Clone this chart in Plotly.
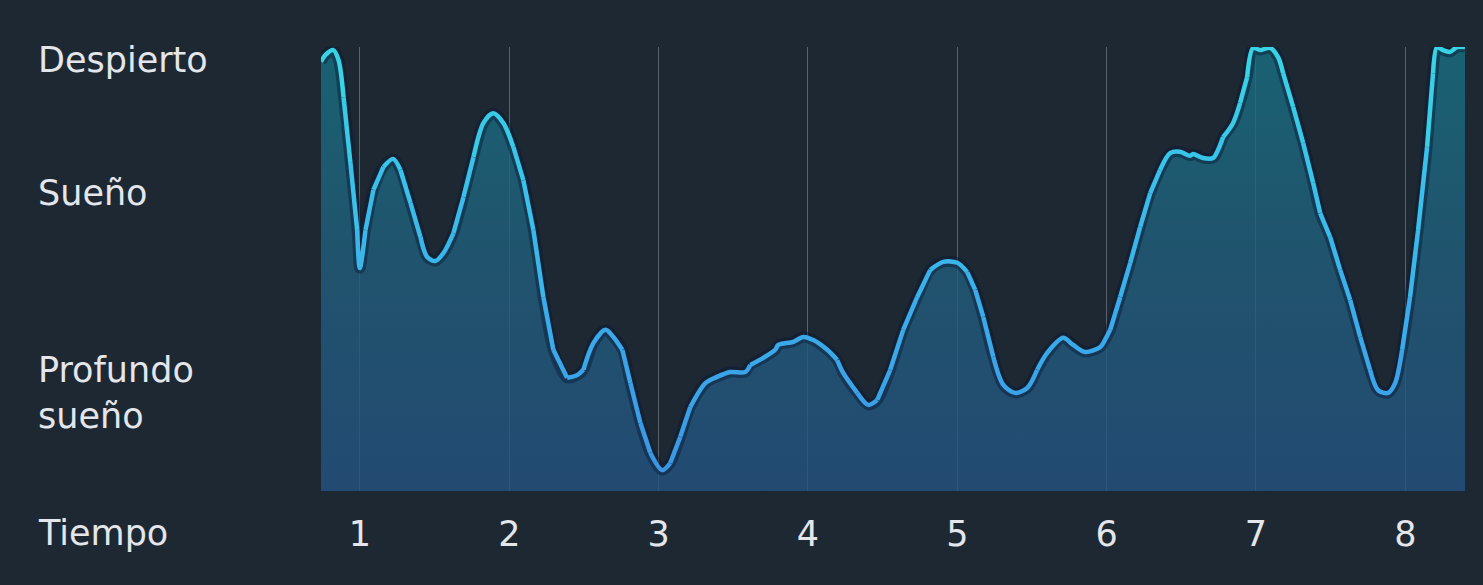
import plotly.graph_objects as go
from plotly.colors import sample_colorscale

# ---- data (time in hours, sleep level 0=deep .. 100=awake) ----
time_h = [0.739, 0.769, 0.821, 0.856, 0.890, 0.936, 0.981, 0.999, 1.037, 1.090,
          1.157, 1.222, 1.271, 1.338, 1.405, 1.450, 1.505, 1.559, 1.626, 1.693,
          1.760, 1.827, 1.892, 1.960, 2.027, 2.094, 2.161, 2.228, 2.295, 2.387,
          2.454, 2.496, 2.563, 2.644, 2.697, 2.757, 2.811, 2.878, 2.944, 3.023,
          3.078, 3.145, 3.212, 3.313, 3.391, 3.480, 3.580, 3.614, 3.701, 3.781,
          3.801, 3.902, 3.969, 4.036, 4.129, 4.196, 4.236, 4.330, 4.404, 4.464,
          4.551, 4.638, 4.732, 4.819, 4.906, 5.000, 5.067, 5.120, 5.174, 5.241,
          5.308, 5.388, 5.468, 5.535, 5.602, 5.709, 5.776, 5.856, 5.957, 5.977,
          6.024, 6.091, 6.158, 6.225, 6.292, 6.358, 6.425, 6.492, 6.559, 6.579,
          6.646, 6.713, 6.746, 6.780, 6.847, 6.894, 6.941, 6.981, 7.028, 7.095,
          7.148, 7.182, 7.249, 7.316, 7.383, 7.430, 7.497, 7.564, 7.631, 7.698,
          7.764, 7.818, 7.885, 7.932, 7.979, 8.032, 8.086, 8.146, 8.186, 8.213,
          8.253, 8.300, 8.347, 8.400]
sleep_level = [96.7, 98.2, 99.3, 97.1, 88.7, 73.9, 58.8, 50.2, 58.8, 67.8,
               73.0, 74.8, 72.3, 64.9, 57.2, 52.7, 51.8, 53.6, 58.1, 66.2,
               75.2, 82.9, 85.1, 82.9, 77.5, 70.0, 58.8, 43.7, 31.8, 25.5,
               26.1, 27.3, 33.3, 36.3, 34.7, 31.8, 24.3, 15.3, 8.6, 4.7,
               6.3, 12.2, 18.9, 24.3, 25.7, 26.8, 26.8, 28.4, 30.0, 31.8,
               32.9, 33.6, 34.7, 34.0, 31.8, 29.5, 26.6, 22.1, 19.4, 20.5,
               27.3, 36.3, 43.7, 49.8, 51.6, 51.4, 49.3, 45.3, 39.2, 30.2,
               23.9, 22.1, 23.2, 27.3, 31.1, 34.5, 32.9, 31.3, 32.4, 33.3,
               36.3, 43.7, 51.4, 59.5, 67.1, 72.3, 76.1, 76.4, 75.5, 75.9,
               75.0, 75.0, 76.8, 79.7, 82.9, 87.4, 93.2, 99.8, 99.3, 99.8,
               97.7, 94.1, 86.5, 78.4, 69.4, 62.6, 57.2, 49.8, 43.0, 34.7,
               27.3, 22.7, 22.1, 24.3, 31.8, 43.7, 58.8, 77.5, 94.1, 100.0,
               99.3, 98.9, 100.0, 100.0]

x_ticks = [1, 2, 3, 4, 5, 6, 7, 8]
x_tick_labels = ["1", "2", "3", "4", "5", "6", "7", "8"]
level_labels = ["Despierto", "Sueño", "Profundo<br>sueño"]
level_positions = [97.1, 67.1, 22.1]
x_title = "Tiempo"

BG = "#1e2833"
TXT = "#e3e6ea"
FONT = "DejaVu Sans"
FSIZE = 35

line_scale = [[0.0, "#3a94e2"], [0.45, "#3bb0ec"], [1.0, "#38d6e6"]]
SMOOTH = 0.85

fig = go.Figure()

# filled area with vertical gradient
fig.add_trace(go.Scatter(
    x=time_h, y=sleep_level, mode="lines", line=dict(width=0, shape="spline", smoothing=SMOOTH),
    fill="tozeroy",
    fillgradient=dict(type="vertical", start=0, stop=100,
                      colorscale=[[0, "rgba(36,82,128,0.82)"], [0.5, "rgba(33,92,122,0.82)"],
                                  [1, "rgba(24,110,128,0.82)"]]),
    hoverinfo="skip", showlegend=False))

# dark halo under the line
fig.add_trace(go.Scatter(
    x=time_h, y=sleep_level, mode="lines",
    line=dict(width=11, color="rgba(8,25,50,0.45)", shape="spline", smoothing=SMOOTH),
    cliponaxis=False, hoverinfo="skip", showlegend=False))

# line with vertical colour gradient: runs of similarly coloured segments
def col_for(v):
    return sample_colorscale(line_scale, [max(0.0, min(1.0, v / 100.0))])[0]

nbins = 14
runs = []
start = 0
cur = None
for i in range(len(time_h) - 1):
    mid = (sleep_level[i] + sleep_level[i + 1]) / 2.0
    b = min(nbins - 1, int(mid / 100.0 * nbins))
    if cur is None:
        cur = b
        start = i
    elif b != cur:
        runs.append((start, i, cur))
        start = i
        cur = b
runs.append((start, len(time_h) - 1, cur))

for s, e, b in runs:
    c = col_for((b + 0.5) / nbins * 100.0)
    fig.add_trace(go.Scatter(
        x=time_h[s:e + 1], y=sleep_level[s:e + 1], mode="lines",
        line=dict(width=4.5, color=c, shape="spline", smoothing=SMOOTH),
        cliponaxis=False, hoverinfo="skip", showlegend=False))

plot_left, plot_right = 320.5, 1465
plot_w = plot_right - plot_left
plot_top, plot_bottom = 47, 491
plot_h = plot_bottom - plot_top
label_x = (35 - plot_left) / plot_w

for txt, yv in zip(level_labels, level_positions):
    fig.add_annotation(x=label_x, xref="paper", y=yv, yref="y", text=txt,
                       showarrow=False, xanchor="left", yanchor="middle", align="left",
                       font=dict(family=FONT, size=FSIZE, color=TXT))

fig.add_annotation(x=label_x, xref="paper", y=(plot_bottom - 533) / plot_h, yref="paper",
                   text=x_title, showarrow=False, xanchor="left", yanchor="middle",
                   font=dict(family=FONT, size=FSIZE, color=TXT))

fig.update_layout(
    width=1483, height=585,
    margin=dict(l=plot_left, r=1483 - plot_right, t=plot_top, b=585 - plot_bottom, pad=0),
    paper_bgcolor=BG, plot_bgcolor=BG,
    xaxis=dict(range=[0.739, 8.40], tickvals=x_ticks, ticktext=x_tick_labels,
               showgrid=True, gridcolor="rgba(170,180,195,0.42)", gridwidth=1,
               zeroline=False, showline=False, ticks="",
               ticklabelstandoff=19,
               tickfont=dict(family=FONT, size=FSIZE, color=TXT), fixedrange=True),
    yaxis=dict(range=[0, 100], showgrid=False, zeroline=False, showline=False,
               showticklabels=False, fixedrange=True),
)

fig.write_html("out.html")
